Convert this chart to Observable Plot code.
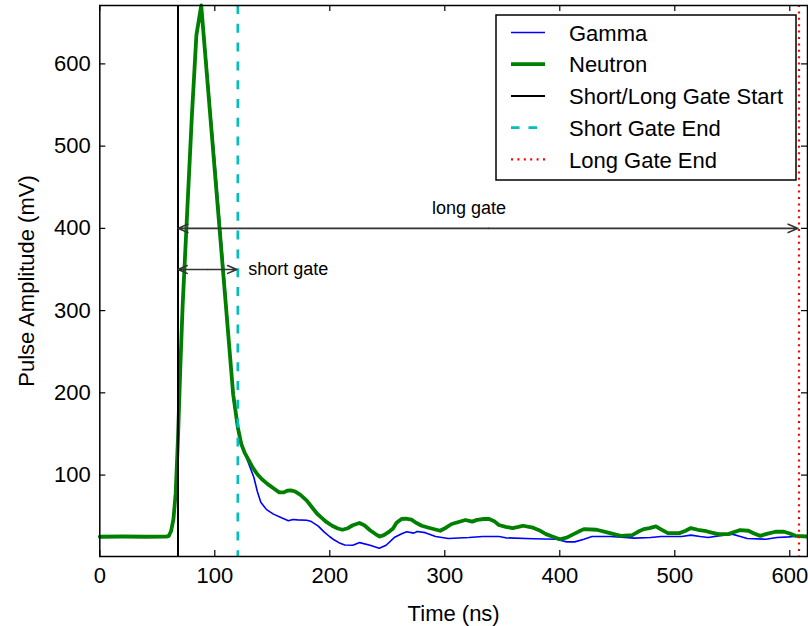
<!DOCTYPE html>
<html>
<head>
<meta charset="utf-8">
<script src="https://cdn.jsdelivr.net/npm/d3@7"></script>
<script src="https://cdn.jsdelivr.net/npm/@observablehq/plot@0.6"></script>
<style>
  html, body { margin: 0; padding: 0; background: #fff; }
  #wrap { position: relative; width: 808px; height: 626px; font-family: "Liberation Sans", Arial, sans-serif; }
  #legend { position: absolute; left: 0; top: 0; pointer-events: none; }
</style>
</head>
<body>
<div id="wrap"></div>
<script>
// ---- Data ----
const gammaTime = [0,20,40,58,60,62,64,66,68,70,72,76,80,84,88.5,92,96,100,104,108,112,116,120,125,130,134,137,140,145,151,158,164,168,172,180,184,190,195,200,204,209,213,220,226,235,243,249,256,263,267,273,276,283,292,303,321,333,347,353,377,397,406,413,421,428,444,465,479,488,506,514,522,529,538,550,557,563,579,589,599,608,615.4];
const gammaAmp  = [25,25.3,25,25.2,26,32,46,78,145,230,305,420,535,635,670,615,548,482,414,345,272,192,158,130,112,97,80,67,58,52.5,48,44.5,46,45.5,45,43.5,38,31,25,21,17,15,14.7,17.9,14.7,11,14.7,24,29,31,29.4,31.5,30,25.3,22.9,24.1,25.3,25.3,23.7,22.5,22,18.8,18.8,22,25.3,25.3,23.3,24.1,25.3,25.3,27,25.3,24.1,26.1,28.2,25.3,22.9,22,24.1,24.9,26.1,26.1];

const neutronTime = [0,20,40,58,60,62,64,66,68,70,72,76,80,84,88.2,92,96,100,104,108,112,116,120,123,126,130,133,137,141,146,151,156,160,163,166,170,174.5,180,185,189,193,197,202,207,211,215,220,225.8,230,235,240,243.4,247,250.7,255,258,262.4,266,271,275,280,286,296,301,306,312,318,323.9,328,334,338.6,343,347,353,359,364,368,376.7,382,388,394,400,406,412,416,421,432,442,453,463,468,473,478,483.6,488,494,504,509,514,520,526,532,538,546.6,551,556.8,564,569,574.4,580,587.6,595,600,605,615.4];
const neutronAmp  = [25,25.3,25,25.2,26,32,46,78,145,230,305,420,535,635,671,606,538,470,402,334,266,198,158,138,127,117,109,101,95,89,84,79,79,81,81.5,80,76,69,60,53,48,43,38.4,35,33.5,35,39,41.7,39,33,28,25.3,27,30.2,35,42,46.6,47,45.8,42,38.4,36,32.3,36,40.5,43,45.4,43.4,45.5,46.6,46.6,44,39.3,37,35.6,37,38.4,36,33,28.2,25,22,24,28.2,31,34.3,33.5,30,26.1,27,31,34.3,35.5,37.6,34,29.4,29.4,32,35.6,33.5,32.3,30,28.2,28.2,30.5,33.1,32.3,29,26.1,28.5,31.1,31.1,29,26.1,25.3];

const gateStart = 68;       // Short/Long Gate Start (ns)
const shortGateEnd = 120;   // Short Gate End (ns)
const longGateEnd = 608;    // Long Gate End (ns)

const xTicks = [0,100,200,300,400,500,600];
const yTicks = [100,200,300,400,500,600];

const gateArrows = [
  {name: "long gate",  start: gateStart, end: longGateEnd,  level: 400},
  {name: "short gate", start: gateStart, end: shortGateEnd, level: 350}
];
const annotationLabels = ["long gate", "short gate"];
const annotationX = [321, 129];
const annotationY = [418, 350];

const legendLabels = ["Gamma", "Neutron", "Short/Long Gate Start", "Short Gate End", "Long Gate End"];
const legendColors = ["#0000ff", "#008000", "#000000", "#00bfbf", "#ff0000"];

// ---- Build tables ----
const gamma = gammaTime.map((t, i) => ({t, v: gammaAmp[i]}));
const neutron = neutronTime.map((t, i) => ({t, v: neutronAmp[i]}));
const annotations = annotationLabels.map((s, i) => ({s, x: annotationX[i], y: annotationY[i]}));

const W = 808, H = 626;
const mL = 99.3, mR = 1, mT = 5, mB = 70;
const innerH = H - mT - mB, innerW = W - mL - mR;
const tickLen = 6;

const plot = Plot.plot({
  width: W, height: H,
  marginLeft: mL, marginRight: mR, marginTop: mT, marginBottom: mB,
  x: {domain: [0, 615.4]},
  y: {domain: [1, 671]},
  style: {fontFamily: "'Liberation Sans', Arial, sans-serif", fontSize: "22px", background: "white", color: "black", overflow: "visible"},
  marks: [
    Plot.axisX({ticks: xTicks, tickSize: 0, tickPadding: 11, label: null, fontSize: 22}),
    Plot.axisY({ticks: yTicks, tickSize: 0, tickPadding: 9, label: null, fontSize: 22}),
    // inward tick marks on all four sides
    Plot.tickX(xTicks, {x: d => d, insetTop: innerH - tickLen, stroke: "black", strokeWidth: 1.2}),
    Plot.tickX(xTicks, {x: d => d, insetBottom: innerH - tickLen, stroke: "black", strokeWidth: 1.2}),
    Plot.tickY(yTicks, {y: d => d, insetRight: innerW - tickLen, stroke: "black", strokeWidth: 1.2}),
    Plot.tickY(yTicks, {y: d => d, insetLeft: innerW - tickLen, stroke: "black", strokeWidth: 1.2}),
    // series
    Plot.line(gamma, {x: "t", y: "v", stroke: legendColors[0], strokeWidth: 1.6}),
    Plot.line(neutron, {x: "t", y: "v", stroke: legendColors[1], strokeWidth: 3.8}),
    // gate lines
    Plot.ruleX([gateStart], {stroke: legendColors[2], strokeWidth: 2}),
    Plot.ruleX([shortGateEnd], {stroke: legendColors[3], strokeWidth: 2.6, strokeDasharray: "9,9.8"}),
    Plot.ruleX([longGateEnd], {stroke: legendColors[4], strokeWidth: 2.2, strokeDasharray: "2,4.4"}),
    // double-headed annotation arrows
    Plot.arrow(gateArrows, {x1: d => (d.start + d.end) / 2, x2: d => d.end, y1: "level", y2: "level", bend: 0, headLength: 10, headAngle: 46, stroke: "#333", strokeWidth: 1.6, insetEnd: 1}),
    Plot.arrow(gateArrows, {x1: d => (d.start + d.end) / 2, x2: d => d.start, y1: "level", y2: "level", bend: 0, headLength: 10, headAngle: 46, stroke: "#333", strokeWidth: 1.6, insetEnd: 0}),
    Plot.text(annotations.slice(0, 1), {x: "x", y: "y", text: "s", textAnchor: "middle", lineAnchor: "bottom", fontSize: 18, fill: "black"}),
    Plot.text(annotations.slice(1), {x: "x", y: "y", text: "s", textAnchor: "start", lineAnchor: "middle", fontSize: 18, fill: "black"}),
    // axis titles
    Plot.text(["Time (ns)"], {text: d => d, frameAnchor: "bottom", textAnchor: "middle", lineAnchor: "bottom", dy: 64, fontSize: 22, fill: "black"}),
    Plot.text(["Pulse Amplitude (mV)"], {text: d => d, frameAnchor: "left", textAnchor: "middle", rotate: -90, dx: -73, lineAnchor: "middle", fontSize: 22, fill: "black"}),
    Plot.frame({stroke: "black", strokeWidth: 1.5})
  ]
});

const wrap = document.getElementById("wrap");
wrap.appendChild(plot);

// ---- Legend (inside the axes, upper right) ----
const lg = d3.select(wrap).append("svg")
  .attr("id", "legend").attr("width", W).attr("height", H);
const box = {x: 496, y: 15, w: 300, h: 165};
lg.append("rect").attr("x", box.x).attr("y", box.y).attr("width", box.w).attr("height", box.h)
  .attr("fill", "white").attr("stroke", "black").attr("stroke-width", 1.5);
const legendWidths = [1.6, 3.8, 2, 2.6, 2.2];
const legendDash = [null, null, null, "8.5,9", "2,4.4"];
legendLabels.forEach((label, i) => {
  const cy = box.y + 17.5 + i * 31.7;
  lg.append("line").attr("x1", box.x + 15).attr("x2", box.x + 49).attr("y1", cy).attr("y2", cy)
    .attr("stroke", legendColors[i]).attr("stroke-width", legendWidths[i])
    .attr("stroke-dasharray", legendDash[i]);
  lg.append("text").attr("x", box.x + 73).attr("y", cy + 8.2)
    .attr("font-family", "'Liberation Sans', Arial, sans-serif").attr("font-size", 22)
    .attr("fill", "black").text(label);
});
</script>
</body>
</html>
